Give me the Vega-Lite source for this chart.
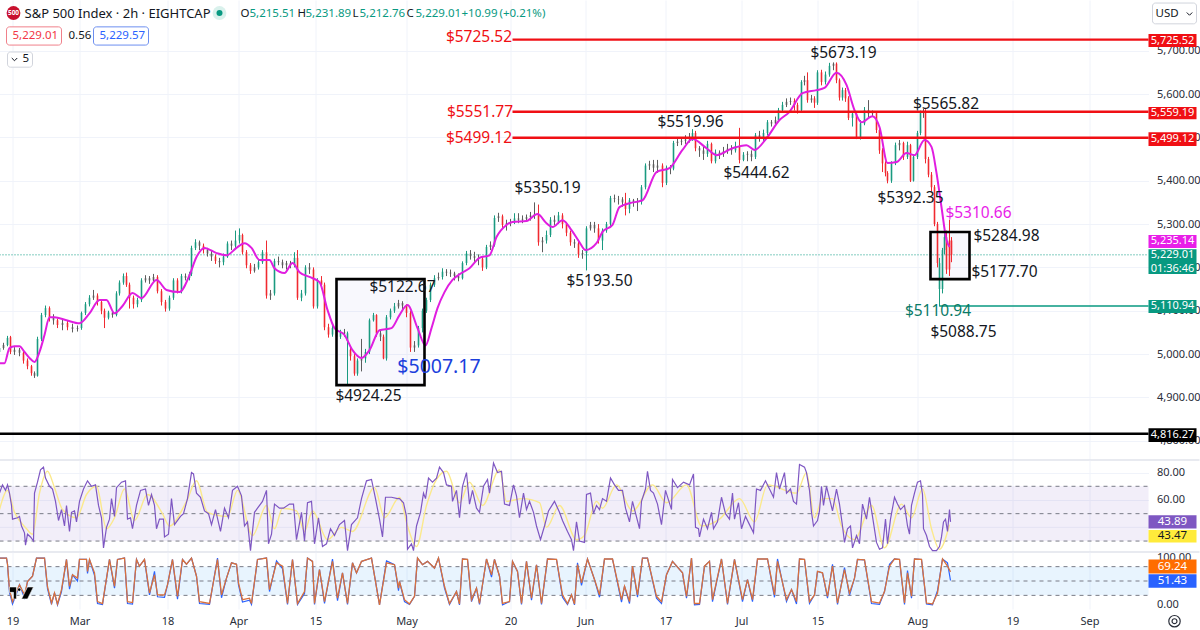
{
"$schema":"https://vega.github.io/schema/vega-lite/v6.json",
"padding":{"left":-2.5,"right":2.5,"top":0,"bottom":0},
"background":"#ffffff",
"spacing":0,
"bounds":"flush",
"resolve":{"scale":{"color":"independent","stroke":"independent"}},
"config":{"view":{"stroke":null},"legend":{"disable":true},"font":"Noto Sans","text":{"font":"Noto Sans"},"axis":{"labelFont":"Noto Sans"}},
"datasets":{
"candles":[
{"bar":0,"o":5005,"h":5018,"l":5000,"c":5014},{"bar":4,"o":5014,"h":5026,"l":5010,"c":5021},{"bar":8,"o":5021,"h":5042,"l":5018,"c":5037},{"bar":11,"o":5039,"h":5042,"l":5000,"c":5005},{"bar":15,"o":5005,"h":5016,"l":4998,"c":5010},{"bar":20,"o":5010,"h":5014,"l":4995,"c":5003},{"bar":24,"o":5003,"h":5006,"l":4978,"c":4985},{"bar":28,"o":4985,"h":4990,"l":4965,"c":4972},{"bar":32,"o":4972,"h":4975,"l":4950,"c":4956},{"bar":35,"o":4956,"h":4960,"l":4945,"c":4950},{"bar":38,"o":4950,"h":5040,"l":4948,"c":5035},{"bar":42,"o":5035,"h":5095,"l":5030,"c":5090},{"bar":46,"o":5090,"h":5112,"l":5085,"c":5106},{"bar":50,"o":5106,"h":5110,"l":5075,"c":5085},{"bar":54,"o":5085,"h":5092,"l":5068,"c":5078},{"bar":58,"o":5078,"h":5082,"l":5060,"c":5067},{"bar":63,"o":5067,"h":5080,"l":5055,"c":5072},{"bar":68,"o":5072,"h":5078,"l":5055,"c":5062},{"bar":73,"o":5062,"h":5070,"l":5050,"c":5058},{"bar":78,"o":5058,"h":5066,"l":5052,"c":5060},
{"bar":82,"o":5060,"h":5098,"l":5056,"c":5095},{"bar":86,"o":5095,"h":5120,"l":5090,"c":5115},{"bar":90,"o":5115,"h":5136,"l":5110,"c":5130},{"bar":94,"o":5130,"h":5148,"l":5125,"c":5135},{"bar":98,"o":5135,"h":5140,"l":5112,"c":5120},{"bar":102,"o":5120,"h":5124,"l":5092,"c":5100},{"bar":105,"o":5100,"h":5105,"l":5060,"c":5084},{"bar":109,"o":5084,"h":5100,"l":5080,"c":5096},{"bar":113,"o":5096,"h":5100,"l":5084,"c":5090},{"bar":117,"o":5090,"h":5145,"l":5087,"c":5140},{"bar":120,"o":5140,"h":5170,"l":5135,"c":5165},{"bar":124,"o":5165,"h":5186,"l":5160,"c":5180},{"bar":127,"o":5180,"h":5188,"l":5155,"c":5160},{"bar":130,"o":5160,"h":5165,"l":5105,"c":5130},{"bar":134,"o":5130,"h":5135,"l":5105,"c":5115},{"bar":138,"o":5115,"h":5130,"l":5108,"c":5125},{"bar":142,"o":5125,"h":5175,"l":5120,"c":5170},{"bar":146,"o":5170,"h":5182,"l":5165,"c":5175},{"bar":150,"o":5175,"h":5180,"l":5162,"c":5170},{"bar":154,"o":5170,"h":5185,"l":5165,"c":5178},
{"bar":158,"o":5178,"h":5182,"l":5140,"c":5145},{"bar":162,"o":5145,"h":5150,"l":5112,"c":5120},{"bar":166,"o":5120,"h":5125,"l":5098,"c":5105},{"bar":170,"o":5105,"h":5135,"l":5100,"c":5130},{"bar":174,"o":5130,"h":5175,"l":5125,"c":5170},{"bar":178,"o":5170,"h":5175,"l":5140,"c":5145},{"bar":182,"o":5145,"h":5185,"l":5140,"c":5180},{"bar":186,"o":5180,"h":5186,"l":5170,"c":5176},{"bar":190,"o":5176,"h":5190,"l":5170,"c":5185},{"bar":192,"o":5185,"h":5250,"l":5180,"c":5245},{"bar":196,"o":5245,"h":5265,"l":5240,"c":5258},{"bar":200,"o":5258,"h":5262,"l":5240,"c":5250},{"bar":204,"o":5250,"h":5255,"l":5232,"c":5240},{"bar":208,"o":5240,"h":5245,"l":5225,"c":5232},{"bar":212,"o":5232,"h":5238,"l":5215,"c":5225},{"bar":216,"o":5225,"h":5230,"l":5208,"c":5215},{"bar":220,"o":5215,"h":5222,"l":5200,"c":5212},{"bar":224,"o":5212,"h":5232,"l":5205,"c":5225},{"bar":228,"o":5225,"h":5260,"l":5222,"c":5255},{"bar":232,"o":5255,"h":5262,"l":5240,"c":5250},
{"bar":236,"o":5250,"h":5285,"l":5245,"c":5262},{"bar":240,"o":5262,"h":5290,"l":5255,"c":5275},{"bar":243,"o":5275,"h":5278,"l":5230,"c":5235},{"bar":247,"o":5235,"h":5240,"l":5198,"c":5205},{"bar":251,"o":5205,"h":5210,"l":5185,"c":5192},{"bar":255,"o":5192,"h":5208,"l":5188,"c":5200},{"bar":259,"o":5200,"h":5220,"l":5195,"c":5212},{"bar":263,"o":5212,"h":5240,"l":5208,"c":5235},{"bar":267,"o":5235,"h":5262,"l":5128,"c":5135},{"bar":271,"o":5135,"h":5148,"l":5125,"c":5140},{"bar":275,"o":5140,"h":5220,"l":5135,"c":5215},{"bar":279,"o":5215,"h":5225,"l":5205,"c":5212},{"bar":283,"o":5212,"h":5218,"l":5198,"c":5205},{"bar":287,"o":5205,"h":5215,"l":5195,"c":5210},{"bar":291,"o":5210,"h":5215,"l":5198,"c":5205},{"bar":295,"o":5205,"h":5235,"l":5200,"c":5222},{"bar":298,"o":5222,"h":5240,"l":5125,"c":5130},{"bar":302,"o":5130,"h":5148,"l":5122,"c":5140},{"bar":306,"o":5140,"h":5205,"l":5135,"c":5200},{"bar":310,"o":5200,"h":5210,"l":5185,"c":5195},
{"bar":314,"o":5195,"h":5200,"l":5105,"c":5110},{"bar":318,"o":5110,"h":5175,"l":5105,"c":5170},{"bar":322,"o":5170,"h":5180,"l":5150,"c":5160},{"bar":325,"o":5160,"h":5165,"l":5055,"c":5062},{"bar":329,"o":5062,"h":5070,"l":5038,"c":5045},{"bar":333,"o":5045,"h":5068,"l":5040,"c":5060},{"bar":337,"o":5060,"h":5065,"l":5030,"c":5040},{"bar":341,"o":5040,"h":5056,"l":5035,"c":5050},{"bar":345,"o":5050,"h":5058,"l":5040,"c":5048},{"bar":348,"o":5030,"h":5052,"l":4928,"c":5048},{"bar":351,"o":5010,"h":5015,"l":4985,"c":4995},{"bar":355,"o":4995,"h":5000,"l":4950,"c":4955},{"bar":358,"o":4955,"h":4990,"l":4950,"c":4985},{"bar":362,"o":4985,"h":5035,"l":4960,"c":4990},{"bar":366,"o":4990,"h":5012,"l":4980,"c":5005},{"bar":370,"o":5005,"h":5082,"l":5000,"c":5078},{"bar":374,"o":5078,"h":5095,"l":5075,"c":5090},{"bar":377,"o":5090,"h":5092,"l":5040,"c":5048},{"bar":381,"o":5048,"h":5055,"l":5030,"c":5040},{"bar":384,"o":5040,"h":5045,"l":4988,"c":4990},
{"bar":387,"o":4990,"h":5090,"l":4985,"c":5085},{"bar":391,"o":5085,"h":5105,"l":5080,"c":5100},{"bar":395,"o":5100,"h":5118,"l":5095,"c":5110},{"bar":399,"o":5110,"h":5125,"l":5105,"c":5118},{"bar":403,"o":5118,"h":5122,"l":5100,"c":5112},{"bar":407,"o":5112,"h":5115,"l":5085,"c":5095},{"bar":411,"o":5095,"h":5100,"l":5005,"c":5015},{"bar":415,"o":5015,"h":5030,"l":5005,"c":5020},{"bar":419,"o":5020,"h":5065,"l":5015,"c":5060},{"bar":423,"o":5060,"h":5105,"l":5050,"c":5100},{"bar":427,"o":5100,"h":5130,"l":5095,"c":5125},{"bar":431,"o":5125,"h":5165,"l":5120,"c":5160},{"bar":435,"o":5160,"h":5182,"l":5155,"c":5175},{"bar":439,"o":5175,"h":5188,"l":5170,"c":5178},{"bar":443,"o":5178,"h":5198,"l":5172,"c":5190},{"bar":447,"o":5190,"h":5196,"l":5180,"c":5188},{"bar":451,"o":5188,"h":5195,"l":5178,"c":5186},{"bar":455,"o":5186,"h":5190,"l":5170,"c":5180},{"bar":459,"o":5180,"h":5186,"l":5168,"c":5175},{"bar":463,"o":5175,"h":5214,"l":5172,"c":5210},
{"bar":467,"o":5210,"h":5238,"l":5205,"c":5232},{"bar":471,"o":5232,"h":5240,"l":5218,"c":5226},{"bar":475,"o":5226,"h":5236,"l":5212,"c":5222},{"bar":479,"o":5222,"h":5230,"l":5205,"c":5220},{"bar":483,"o":5220,"h":5225,"l":5192,"c":5200},{"bar":487,"o":5200,"h":5252,"l":5196,"c":5247},{"bar":491,"o":5247,"h":5260,"l":5240,"c":5252},{"bar":495,"o":5252,"h":5320,"l":5248,"c":5314},{"bar":499,"o":5314,"h":5326,"l":5305,"c":5318},{"bar":503,"o":5318,"h":5322,"l":5290,"c":5298},{"bar":507,"o":5298,"h":5310,"l":5285,"c":5302},{"bar":511,"o":5302,"h":5312,"l":5295,"c":5304},{"bar":515,"o":5304,"h":5325,"l":5300,"c":5313},{"bar":519,"o":5313,"h":5325,"l":5302,"c":5310},{"bar":523,"o":5310,"h":5320,"l":5302,"c":5312},{"bar":527,"o":5312,"h":5322,"l":5305,"c":5316},{"bar":531,"o":5316,"h":5328,"l":5308,"c":5320},{"bar":535,"o":5320,"h":5350,"l":5312,"c":5322},{"bar":539,"o":5322,"h":5345,"l":5250,"c":5258},{"bar":543,"o":5258,"h":5270,"l":5235,"c":5262},
{"bar":547,"o":5262,"h":5285,"l":5255,"c":5275},{"bar":551,"o":5275,"h":5316,"l":5270,"c":5310},{"bar":555,"o":5310,"h":5320,"l":5298,"c":5305},{"bar":559,"o":5305,"h":5328,"l":5300,"c":5320},{"bar":563,"o":5320,"h":5325,"l":5290,"c":5300},{"bar":567,"o":5300,"h":5305,"l":5272,"c":5280},{"bar":571,"o":5280,"h":5285,"l":5250,"c":5258},{"bar":575,"o":5258,"h":5265,"l":5245,"c":5255},{"bar":579,"o":5255,"h":5260,"l":5222,"c":5230},{"bar":583,"o":5230,"h":5240,"l":5220,"c":5233},{"bar":587,"o":5233,"h":5295,"l":5193,"c":5290},{"bar":591,"o":5290,"h":5305,"l":5285,"c":5298},{"bar":595,"o":5298,"h":5305,"l":5280,"c":5290},{"bar":599,"o":5290,"h":5300,"l":5255,"c":5262},{"bar":603,"o":5262,"h":5290,"l":5240,"c":5285},{"bar":607,"o":5285,"h":5305,"l":5280,"c":5300},{"bar":611,"o":5300,"h":5365,"l":5295,"c":5360},{"bar":615,"o":5360,"h":5368,"l":5350,"c":5358},{"bar":619,"o":5358,"h":5365,"l":5345,"c":5357},{"bar":623,"o":5357,"h":5362,"l":5340,"c":5350},
{"bar":626,"o":5350,"h":5372,"l":5320,"c":5335},{"bar":630,"o":5335,"h":5360,"l":5325,"c":5355},{"bar":634,"o":5355,"h":5358,"l":5340,"c":5350},{"bar":638,"o":5350,"h":5360,"l":5330,"c":5352},{"bar":642,"o":5352,"h":5390,"l":5345,"c":5385},{"bar":646,"o":5385,"h":5440,"l":5380,"c":5435},{"bar":650,"o":5435,"h":5446,"l":5425,"c":5438},{"bar":654,"o":5438,"h":5448,"l":5420,"c":5430},{"bar":658,"o":5430,"h":5448,"l":5418,"c":5435},{"bar":663,"o":5435,"h":5440,"l":5385,"c":5395},{"bar":667,"o":5395,"h":5435,"l":5390,"c":5430},{"bar":671,"o":5430,"h":5436,"l":5415,"c":5428},{"bar":674,"o":5428,"h":5492,"l":5424,"c":5487},{"bar":678,"o":5487,"h":5498,"l":5480,"c":5490},{"bar":682,"o":5490,"h":5500,"l":5482,"c":5492},{"bar":686,"o":5492,"h":5505,"l":5485,"c":5495},{"bar":690,"o":5495,"h":5510,"l":5488,"c":5498},{"bar":693,"o":5498,"h":5519,"l":5492,"c":5510},{"bar":696,"o":5510,"h":5515,"l":5468,"c":5475},{"bar":700,"o":5475,"h":5480,"l":5455,"c":5470},
{"bar":704,"o":5470,"h":5478,"l":5448,"c":5462},{"bar":708,"o":5462,"h":5492,"l":5455,"c":5485},{"bar":712,"o":5485,"h":5488,"l":5440,"c":5445},{"bar":716,"o":5445,"h":5472,"l":5440,"c":5465},{"bar":720,"o":5465,"h":5470,"l":5450,"c":5462},{"bar":724,"o":5462,"h":5478,"l":5455,"c":5468},{"bar":728,"o":5468,"h":5485,"l":5462,"c":5474},{"bar":732,"o":5474,"h":5482,"l":5460,"c":5470},{"bar":736,"o":5470,"h":5490,"l":5465,"c":5480},{"bar":740,"o":5480,"h":5522,"l":5440,"c":5448},{"bar":744,"o":5448,"h":5466,"l":5445,"c":5460},{"bar":748,"o":5460,"h":5468,"l":5445,"c":5462},{"bar":752,"o":5462,"h":5470,"l":5445,"c":5455},{"bar":756,"o":5455,"h":5510,"l":5450,"c":5505},{"bar":760,"o":5505,"h":5515,"l":5490,"c":5498},{"bar":764,"o":5498,"h":5518,"l":5492,"c":5510},{"bar":768,"o":5510,"h":5540,"l":5505,"c":5535},{"bar":772,"o":5535,"h":5540,"l":5525,"c":5532},{"bar":776,"o":5532,"h":5548,"l":5528,"c":5540},{"bar":779,"o":5540,"h":5568,"l":5535,"c":5563},
{"bar":783,"o":5563,"h":5582,"l":5558,"c":5575},{"bar":787,"o":5575,"h":5590,"l":5570,"c":5582},{"bar":791,"o":5582,"h":5592,"l":5575,"c":5584},{"bar":795,"o":5584,"h":5590,"l":5562,"c":5575},{"bar":798,"o":5575,"h":5580,"l":5555,"c":5563},{"bar":802,"o":5563,"h":5632,"l":5558,"c":5628},{"bar":805,"o":5628,"h":5642,"l":5620,"c":5632},{"bar":808,"o":5632,"h":5650,"l":5580,"c":5586},{"bar":812,"o":5586,"h":5598,"l":5580,"c":5590},{"bar":815,"o":5590,"h":5595,"l":5568,"c":5580},{"bar":818,"o":5580,"h":5655,"l":5575,"c":5650},{"bar":822,"o":5650,"h":5656,"l":5620,"c":5628},{"bar":826,"o":5628,"h":5652,"l":5622,"c":5645},{"bar":830,"o":5645,"h":5672,"l":5640,"c":5665},{"bar":834,"o":5665,"h":5673,"l":5655,"c":5670},{"bar":837,"o":5670,"h":5673,"l":5625,"c":5632},{"bar":840,"o":5632,"h":5636,"l":5585,"c":5592},{"bar":843,"o":5592,"h":5615,"l":5585,"c":5609},{"bar":846,"o":5609,"h":5614,"l":5582,"c":5590},{"bar":849,"o":5590,"h":5595,"l":5540,"c":5545},
{"bar":853,"o":5545,"h":5560,"l":5525,"c":5555},{"bar":857,"o":5555,"h":5558,"l":5496,"c":5500},{"bar":861,"o":5500,"h":5540,"l":5495,"c":5532},{"bar":865,"o":5532,"h":5570,"l":5528,"c":5563},{"bar":869,"o":5563,"h":5586,"l":5545,"c":5555},{"bar":873,"o":5555,"h":5562,"l":5548,"c":5556},{"bar":877,"o":5556,"h":5560,"l":5510,"c":5517},{"bar":880,"o":5517,"h":5520,"l":5462,"c":5470},{"bar":883,"o":5470,"h":5475,"l":5420,"c":5440},{"bar":886,"o":5440,"h":5445,"l":5410,"c":5418},{"bar":888,"o":5418,"h":5422,"l":5394,"c":5400},{"bar":892,"o":5400,"h":5445,"l":5395,"c":5440},{"bar":896,"o":5440,"h":5488,"l":5436,"c":5482},{"bar":900,"o":5482,"h":5494,"l":5470,"c":5487},{"bar":904,"o":5487,"h":5490,"l":5448,"c":5455},{"bar":908,"o":5455,"h":5490,"l":5450,"c":5482},{"bar":911,"o":5482,"h":5485,"l":5397,"c":5400},{"bar":914,"o":5400,"h":5460,"l":5398,"c":5455},{"bar":918,"o":5455,"h":5515,"l":5450,"c":5510},{"bar":921,"o":5510,"h":5562,"l":5505,"c":5556},
{"bar":924,"o":5556,"h":5566,"l":5545,"c":5558},{"bar":926,"o":5558,"h":5565,"l":5440,"c":5450},{"bar":929,"o":5450,"h":5455,"l":5408,"c":5414},{"bar":932,"o":5414,"h":5420,"l":5375,"c":5385},{"bar":935,"o":5385,"h":5390,"l":5295,"c":5300},{"bar":938,"o":5300,"h":5305,"l":5200,"c":5210},{"bar":940,"o":5150,"h":5222,"l":5110,"c":5210},{"bar":943,"o":5150,"h":5245,"l":5140,"c":5240},{"bar":945,"o":5240,"h":5280,"l":5230,"c":5270},{"bar":947,"o":5270,"h":5285,"l":5185,"c":5195},{"bar":950,"o":5262,"h":5310,"l":5180,"c":5195},{"bar":952,"o":5262,"h":5270,"l":5212,"c":5229}
],
"priceSma":[
{"bar":0,"value":4979},{"bar":5,"value":4979},{"bar":10,"value":5014},{"bar":15,"value":5018},{"bar":20,"value":5018},{"bar":25,"value":5005},{"bar":30,"value":4991},{"bar":35,"value":4982},{"bar":40,"value":5005},{"bar":45,"value":5044},{"bar":50,"value":5085},{"bar":55,"value":5085},{"bar":67,"value":5078},{"bar":80,"value":5071},{"bar":90,"value":5094},{"bar":100,"value":5125},{"bar":107,"value":5125},{"bar":115,"value":5094},{"bar":123,"value":5111},{"bar":133,"value":5141},{"bar":142,"value":5129},{"bar":157,"value":5171},{"bar":167,"value":5148},{"bar":180,"value":5143},{"bar":190,"value":5182},{"bar":197,"value":5224},{"bar":205,"value":5245},{"bar":217,"value":5233},{"bar":227,"value":5228},{"bar":237,"value":5245},{"bar":245,"value":5256},{"bar":252,"value":5245},{"bar":260,"value":5217},{"bar":270,"value":5217},{"bar":275,"value":5198},{"bar":285,"value":5187},{"bar":293,"value":5210},{"bar":300,"value":5189},{"bar":310,"value":5178},{"bar":320,"value":5166},{"bar":328,"value":5102},{"bar":335,"value":5060},{"bar":345,"value":5044},{"bar":353,"value":5009},{"bar":362,"value":4991},{"bar":370,"value":5009},{"bar":380,"value":5055},{"bar":392,"value":5060},{"bar":400,"value":5090},{"bar":408,"value":5113},{"bar":418,"value":5060},{"bar":426,"value":5020},{"bar":432,"value":5060},{"bar":438,"value":5106},{"bar":445,"value":5143},{"bar":453,"value":5171},{"bar":462,"value":5187},{"bar":470,"value":5198},{"bar":480,"value":5222},{"bar":490,"value":5228},{"bar":497,"value":5270},{"bar":507,"value":5298},{"bar":513,"value":5305},{"bar":527,"value":5307},{"bar":538,"value":5323},{"bar":547,"value":5302},{"bar":553,"value":5293},{"bar":563,"value":5309},{"bar":572,"value":5286},{"bar":580,"value":5258},{"bar":586,"value":5240},{"bar":597,"value":5256},{"bar":603,"value":5282},{"bar":613,"value":5298},{"bar":620,"value":5339},{"bar":630,"value":5348},{"bar":643,"value":5355},{"bar":657,"value":5420},{"bar":670,"value":5429},{"bar":683,"value":5471},{"bar":693,"value":5496},{"bar":707,"value":5475},{"bar":717,"value":5459},{"bar":733,"value":5475},{"bar":747,"value":5482},{"bar":755,"value":5471},{"bar":767,"value":5498},{"bar":780,"value":5540},{"bar":790,"value":5559},{"bar":803,"value":5602},{"bar":817,"value":5609},{"bar":825,"value":5614},{"bar":837,"value":5649},{"bar":847,"value":5621},{"bar":855,"value":5563},{"bar":862,"value":5535},{"bar":873,"value":5549},{"bar":880,"value":5524},{"bar":888,"value":5441},{"bar":897,"value":5443},{"bar":907,"value":5464},{"bar":915,"value":5459},{"bar":925,"value":5494},{"bar":932,"value":5478},{"bar":937,"value":5418},{"bar":942,"value":5339},{"bar":947,"value":5263},{"bar":950,"value":5247}
],
"levels":[
{"bar":513,"end":1149,"value":5725.52,"tone":"resistance"},{"bar":513,"end":1149,"value":5559.19,"tone":"resistance"},{"bar":513,"end":1149,"value":5499.12,"tone":"resistance"},{"bar":0,"end":1149,"value":4816.27,"tone":"floor"},{"bar":940,"end":1149,"value":5110.94,"tone":"up"}
],
"lastPrice":[{"bar":0,"end":1149,"value":5229.01}],
"mainDivider":[{"bar":0,"end":1200,"value":4755.6}],
"zones":[{"bar":337,"end":425,"value":5173,"low":4928.4},{"bar":931,"end":970,"value":5281.6,"low":5173}],
"notes":[
{"bar":479.5,"value":5731.6,"label":"$5725.52","tone":"resistance"},{"bar":480.5,"value":5558.5,"label":"$5551.77","tone":"resistance"},{"bar":479.5,"value":5498.5,"label":"$5499.12","tone":"resistance"},{"bar":844,"value":5694.7,"label":"$5673.19","tone":"ink"},{"bar":946.5,"value":5577,"label":"$5565.82","tone":"ink"},{"bar":691,"value":5535.4,"label":"$5519.96","tone":"ink"},{"bar":548,"value":5383,"label":"$5350.19","tone":"ink"},{"bar":757,"value":5417.7,"label":"$5444.62","tone":"ink"},{"bar":911,"value":5360,"label":"$5392.35","tone":"ink"},{"bar":979,"value":5325.4,"label":"$5310.66","tone":"sma"},{"bar":1007,"value":5272.3,"label":"$5284.98","tone":"ink"},{"bar":1005,"value":5189.2,"label":"$5177.70","tone":"ink"},{"bar":938.5,"value":5099.2,"label":"$5110.94","tone":"green"},{"bar":964,"value":5050.7,"label":"$5088.75","tone":"ink"},{"bar":600,"value":5168.5,"label":"$5193.50","tone":"ink"},{"bar":403,"value":5154.6,"label":"$5122.67","tone":"ink"},{"bar":439.5,"value":4970,"label":"$5007.17","tone":"blue"},{"bar":369,"value":4903,"label":"$4924.25","tone":"ink"}
],
"priceTags":[
{"bar":1149,"end":1197,"value":5738.5,"low":5708.5,"tone":"resistance"},{"bar":1149,"end":1197,"value":5570,"low":5542,"tone":"resistance"},{"bar":1149,"end":1197,"value":5512,"low":5480,"tone":"resistance"},{"bar":1149,"end":1197,"value":5274.6,"low":5244.6,"tone":"sma"},{"bar":1149,"end":1197,"value":5242,"low":5185,"tone":"up"},{"bar":1149,"end":1197,"value":5125,"low":5095,"tone":"up"},{"bar":1149,"end":1197,"value":4829,"low":4797,"tone":"floor"}
],
"priceTagText":[
{"bar":1173,"value":5723.5,"label":"5,725.52"},{"bar":1173,"value":5556,"label":"5,559.19"},{"bar":1173,"value":5496,"label":"5,499.12"},{"bar":1173,"value":5260,"label":"5,235.14"},{"bar":1173,"value":5228,"label":"5,229.01"},{"bar":1173,"value":5197,"label":"01:36:46"},{"bar":1173,"value":5110,"label":"5,110.94"},{"bar":1173,"value":4813,"label":"4,816.27"}
],
"headerText":[
{"bar":25,"value":5785,"label":"S&P 500 Index · 2h · EIGHTCAP","tone":"ink"},{"bar":241,"value":5785,"label":"O","tone":"ink"},{"bar":250,"value":5785,"label":"5,215.51","tone":"up"},{"bar":298,"value":5785,"label":"H","tone":"ink"},{"bar":306,"value":5785,"label":"5,231.89","tone":"up"},{"bar":353,"value":5785,"label":"L","tone":"ink"},{"bar":360,"value":5785,"label":"5,212.76","tone":"up"},{"bar":407,"value":5785,"label":"C","tone":"ink"},{"bar":416,"value":5785,"label":"5,229.01","tone":"up"},{"bar":462,"value":5785,"label":"+10.99","tone":"up"},{"bar":500,"value":5785,"label":"(+0.21%)","tone":"up"},{"bar":13,"value":5734,"label":"5,229.01","tone":"chipRed"},{"bar":69,"value":5734,"label":"0.56","tone":"ink"},{"bar":100,"value":5734,"label":"5,229.57","tone":"blueChip"},{"bar":23,"value":5680,"label":"5","tone":"ink"},{"bar":1156,"value":5785,"label":"USD","tone":"ink"}
],
"headerBoxes":[
{"bar":7,"end":62,"value":5755,"low":5713,"tone":"chipRed"},{"bar":94,"end":149,"value":5755,"low":5713,"tone":"blueChip"},{"bar":8,"end":33,"value":5697,"low":5662,"tone":"line"},{"bar":1153,"end":1197,"value":5810,"low":5762,"tone":"line"}
],
"logoDot":[{"bar":14,"value":5787}],
"logoText":[{"bar":14,"value":5787,"label":"500"}],
"statusRing":[{"bar":220,"value":5787}],
"chevrons":[{"bar":15,"value":5680},{"bar":1190,"value":5785}],
"rsiBand":[{"bar":0,"end":1149,"value":70,"low":30}],
"rsiDashes":[{"bar":0,"end":1149,"value":70},{"bar":0,"end":1149,"value":50},{"bar":0,"end":1149,"value":30}],
"rsiGrid":[{"bar":0,"end":1149,"value":40}],
"rsiDivider":[{"bar":0,"end":1200,"value":22}],
"rsiLine":[
{"bar":0,"value":65},{"bar":3,"value":71},{"bar":6,"value":67},{"bar":8,"value":71},{"bar":10,"value":65},{"bar":12,"value":56},{"bar":13,"value":46},{"bar":18,"value":47},{"bar":20,"value":48},{"bar":22,"value":41},{"bar":25,"value":36},{"bar":26,"value":27},{"bar":28,"value":35},{"bar":31,"value":33},{"bar":34,"value":30},{"bar":35,"value":65},{"bar":38,"value":73},{"bar":41,"value":82},{"bar":44,"value":84},{"bar":46,"value":76},{"bar":50,"value":70},{"bar":53,"value":68},{"bar":56,"value":59},{"bar":59,"value":45},{"bar":62,"value":53},{"bar":65,"value":41},{"bar":67,"value":56},{"bar":70,"value":37},{"bar":72,"value":51},{"bar":75,"value":52},{"bar":77,"value":44},{"bar":80,"value":59},{"bar":84,"value":68},{"bar":88,"value":74},{"bar":92,"value":70},{"bar":96,"value":71},{"bar":99,"value":56},{"bar":102,"value":47},{"bar":104,"value":25},{"bar":107,"value":40},{"bar":110,"value":46},{"bar":112,"value":61},{"bar":115,"value":48},{"bar":117,"value":69},{"bar":122,"value":73},{"bar":126,"value":74},{"bar":128,"value":46},{"bar":131,"value":47},{"bar":133,"value":39},{"bar":137,"value":56},{"bar":141,"value":67},{"bar":146,"value":68},{"bar":149,"value":56},{"bar":152,"value":64},{"bar":155,"value":56},{"bar":157,"value":39},{"bar":160,"value":46},{"bar":164,"value":46},{"bar":165,"value":33},{"bar":169,"value":35},{"bar":172,"value":61},{"bar":175,"value":42},{"bar":181,"value":48},{"bar":184,"value":50},{"bar":188,"value":61},{"bar":192,"value":80},{"bar":194,"value":79},{"bar":197,"value":65},{"bar":201,"value":62},{"bar":205,"value":52},{"bar":209,"value":50},{"bar":212,"value":42},{"bar":216,"value":53},{"bar":221,"value":37},{"bar":225,"value":54},{"bar":229,"value":47},{"bar":233,"value":67},{"bar":238,"value":70},{"bar":242,"value":63},{"bar":245,"value":41},{"bar":248,"value":44},{"bar":251,"value":23},{"bar":255,"value":51},{"bar":258,"value":54},{"bar":263,"value":59},{"bar":267,"value":67},{"bar":269,"value":28},{"bar":272,"value":35},{"bar":275,"value":57},{"bar":280,"value":54},{"bar":284,"value":54},{"bar":290,"value":57},{"bar":294,"value":57},{"bar":297,"value":31},{"bar":302,"value":51},{"bar":305,"value":30},{"bar":308,"value":58},{"bar":312,"value":59},{"bar":315,"value":28},{"bar":319,"value":47},{"bar":323,"value":26},{"bar":327,"value":28},{"bar":331,"value":39},{"bar":335,"value":34},{"bar":340,"value":42},{"bar":345,"value":45},{"bar":348,"value":23},{"bar":352,"value":42},{"bar":358,"value":47},{"bar":362,"value":61},{"bar":367,"value":74},{"bar":372,"value":75},{"bar":376,"value":61},{"bar":380,"value":46},{"bar":383,"value":33},{"bar":386,"value":62},{"bar":392,"value":62},{"bar":398,"value":61},
{"bar":400,"value":61},{"bar":404,"value":58},{"bar":407,"value":48},{"bar":408,"value":24},{"bar":412,"value":28},{"bar":414,"value":23},{"bar":417,"value":41},{"bar":421,"value":51},{"bar":424,"value":65},{"bar":426,"value":61},{"bar":429,"value":76},{"bar":433,"value":73},{"bar":437,"value":76},{"bar":440,"value":84},{"bar":444,"value":80},{"bar":447,"value":71},{"bar":452,"value":70},{"bar":453,"value":59},{"bar":457,"value":67},{"bar":460,"value":47},{"bar":463,"value":70},{"bar":467,"value":80},{"bar":470,"value":57},{"bar":473,"value":67},{"bar":477,"value":54},{"bar":480,"value":51},{"bar":484,"value":70},{"bar":488,"value":75},{"bar":490,"value":65},{"bar":494,"value":87},{"bar":498,"value":80},{"bar":502,"value":81},{"bar":505,"value":57},{"bar":510,"value":56},{"bar":514,"value":71},{"bar":517,"value":63},{"bar":520,"value":47},{"bar":524,"value":65},{"bar":527,"value":53},{"bar":530,"value":59},{"bar":534,"value":51},{"bar":537,"value":41},{"bar":541,"value":31},{"bar":545,"value":41},{"bar":549,"value":52},{"bar":555,"value":59},{"bar":560,"value":51},{"bar":563,"value":45},{"bar":568,"value":37},{"bar":572,"value":31},{"bar":574,"value":23},{"bar":577,"value":44},{"bar":580,"value":30},{"bar":585,"value":29},{"bar":587,"value":64},{"bar":591,"value":65},{"bar":594,"value":50},{"bar":597,"value":56},{"bar":600,"value":53},{"bar":603,"value":61},{"bar":607,"value":59},{"bar":611,"value":76},{"bar":615,"value":71},{"bar":619,"value":67},{"bar":623,"value":67},{"bar":626,"value":54},{"bar":630,"value":44},{"bar":633,"value":59},{"bar":640,"value":39},{"bar":642,"value":59},{"bar":646,"value":68},{"bar":648,"value":81},{"bar":651,"value":67},{"bar":654,"value":65},{"bar":658,"value":57},{"bar":662,"value":42},{"bar":666,"value":67},{"bar":672,"value":53},{"bar":673,"value":75},{"bar":678,"value":69},{"bar":684,"value":73},{"bar":690,"value":71},{"bar":694,"value":79},{"bar":696,"value":40},{"bar":699,"value":39},{"bar":700,"value":33},{"bar":704,"value":46},{"bar":708,"value":39},{"bar":712,"value":51},{"bar":714,"value":39},{"bar":718,"value":44},{"bar":722,"value":62},{"bar":726,"value":50},{"bar":730,"value":46},{"bar":733,"value":65},{"bar":735,"value":46},{"bar":739,"value":58},{"bar":742,"value":39},{"bar":746,"value":48},{"bar":750,"value":42},{"bar":754,"value":36},{"bar":757,"value":68},{"bar":761,"value":67},{"bar":766,"value":74},{"bar":770,"value":68},{"bar":774,"value":62},{"bar":777,"value":80},{"bar":780,"value":68},{"bar":785,"value":80},{"bar":787,"value":65},{"bar":791,"value":68},{"bar":794,"value":59},{"bar":797,"value":57},
{"bar":800,"value":86},{"bar":805,"value":84},{"bar":807,"value":80},{"bar":810,"value":67},{"bar":812,"value":51},{"bar":814,"value":41},{"bar":818,"value":45},{"bar":820,"value":52},{"bar":822,"value":70},{"bar":824,"value":56},{"bar":827,"value":70},{"bar":830,"value":61},{"bar":833,"value":52},{"bar":837,"value":68},{"bar":840,"value":57},{"bar":843,"value":41},{"bar":845,"value":29},{"bar":848,"value":39},{"bar":851,"value":41},{"bar":853,"value":25},{"bar":857,"value":34},{"bar":860,"value":28},{"bar":863,"value":57},{"bar":867,"value":46},{"bar":870,"value":62},{"bar":873,"value":48},{"bar":877,"value":29},{"bar":880,"value":24},{"bar":883,"value":25},{"bar":886,"value":46},{"bar":888,"value":28},{"bar":891,"value":46},{"bar":895,"value":62},{"bar":898,"value":57},{"bar":901,"value":53},{"bar":905,"value":56},{"bar":908,"value":41},{"bar":910,"value":35},{"bar":912,"value":56},{"bar":915,"value":65},{"bar":918,"value":73},{"bar":921,"value":74},{"bar":923,"value":64},{"bar":924,"value":39},{"bar":927,"value":34},{"bar":930,"value":26},{"bar":933,"value":23},{"bar":937,"value":23},{"bar":940,"value":26},{"bar":942,"value":33},{"bar":944,"value":44},{"bar":946,"value":46},{"bar":948,"value":37},{"bar":950,"value":53},{"bar":951,"value":44}
],
"rsiSma":[
{"bar":0,"value":53},{"bar":8,"value":67},{"bar":15,"value":51},{"bar":20,"value":45},{"bar":27,"value":39},{"bar":33,"value":35},{"bar":40,"value":65},{"bar":48,"value":81},{"bar":55,"value":69},{"bar":63,"value":53},{"bar":77,"value":47},{"bar":87,"value":64},{"bar":97,"value":70},{"bar":107,"value":39},{"bar":115,"value":47},{"bar":125,"value":68},{"bar":135,"value":45},{"bar":148,"value":64},{"bar":163,"value":50},{"bar":170,"value":41},{"bar":187,"value":59},{"bar":197,"value":74},{"bar":208,"value":51},{"bar":228,"value":48},{"bar":238,"value":67},{"bar":253,"value":34},{"bar":267,"value":56},{"bar":275,"value":39},{"bar":283,"value":54},{"bar":297,"value":52},{"bar":305,"value":37},{"bar":313,"value":52},{"bar":328,"value":31},{"bar":342,"value":40},{"bar":353,"value":37},{"bar":375,"value":69},{"bar":385,"value":47},{"bar":400,"value":62},{"bar":408,"value":41},{"bar":417,"value":26},{"bar":427,"value":56},{"bar":437,"value":75},{"bar":447,"value":81},{"bar":460,"value":58},{"bar":470,"value":73},{"bar":483,"value":56},{"bar":500,"value":82},{"bar":507,"value":59},{"bar":523,"value":61},{"bar":540,"value":58},{"bar":547,"value":40},{"bar":560,"value":56},{"bar":577,"value":31},{"bar":585,"value":34},{"bar":597,"value":59},{"bar":603,"value":54},{"bar":617,"value":71},{"bar":633,"value":52},{"bar":653,"value":71},{"bar":667,"value":58},{"bar":687,"value":71},{"bar":702,"value":41},{"bar":720,"value":46},{"bar":740,"value":61},{"bar":755,"value":44},{"bar":768,"value":71},{"bar":797,"value":65},{"bar":807,"value":80},{"bar":815,"value":47},{"bar":823,"value":61},{"bar":833,"value":61},{"bar":842,"value":41},{"bar":855,"value":31},{"bar":872,"value":56},{"bar":885,"value":25},{"bar":902,"value":57},{"bar":912,"value":47},{"bar":923,"value":68},{"bar":932,"value":39},{"bar":940,"value":24},{"bar":950,"value":42}
],
"rsiTags":[{"bar":1149,"end":1197,"value":48.8,"low":39.1,"tone":"rsi"},{"bar":1149,"end":1197,"value":38.1,"low":28.9,"tone":"signal"}],
"rsiTagText":[{"bar":1173,"value":43.9,"label":"43.89"},{"bar":1173,"value":33.5,"label":"43.47"}],
"stochBand":[{"bar":0,"end":1149,"value":80,"low":20}],
"stochDashes":[{"bar":0,"end":1149,"value":80},{"bar":0,"end":1149,"value":50},{"bar":0,"end":1149,"value":20}],
"stochLine":[
{"bar":0,"k":98,"value":98},{"bar":7,"k":98,"value":98},{"bar":8,"k":85,"value":85},{"bar":10,"k":26,"value":32},{"bar":13,"k":2,"value":7},{"bar":17,"k":24,"value":28},{"bar":20,"k":42,"value":42},{"bar":25,"k":15,"value":21},{"bar":28,"k":49,"value":49},{"bar":33,"k":60,"value":60},{"bar":37,"k":98,"value":98},{"bar":45,"k":98,"value":98},{"bar":48,"k":34,"value":38},{"bar":52,"k":1,"value":4},{"bar":55,"k":25,"value":25},{"bar":58,"k":0,"value":2},{"bar":62,"k":28,"value":32},{"bar":67,"k":95,"value":95},{"bar":70,"k":33,"value":39},{"bar":73,"k":63,"value":63},{"bar":78,"k":50,"value":56},{"bar":80,"k":95,"value":95},{"bar":87,"k":95,"value":95},{"bar":88,"k":66,"value":70},{"bar":90,"k":95,"value":95},{"bar":95,"k":62,"value":67},{"bar":98,"k":3,"value":7},{"bar":103,"k":1,"value":3},{"bar":110,"k":95,"value":95},{"bar":115,"k":35,"value":39},{"bar":118,"k":95,"value":95},{"bar":125,"k":98,"value":98},{"bar":128,"k":3,"value":7},{"bar":133,"k":2,"value":5},{"bar":137,"k":95,"value":95},{"bar":140,"k":81,"value":81},{"bar":145,"k":95,"value":95},{"bar":150,"k":21,"value":25},{"bar":155,"k":70,"value":63},{"bar":158,"k":17,"value":21},{"bar":165,"k":16,"value":21},{"bar":168,"k":42,"value":42},{"bar":173,"k":95,"value":95},{"bar":178,"k":12,"value":18},{"bar":183,"k":95,"value":95},{"bar":187,"k":85,"value":85},{"bar":192,"k":98,"value":98},{"bar":197,"k":60,"value":60},{"bar":200,"k":3,"value":7},{"bar":210,"k":1,"value":3},{"bar":218,"k":98,"value":95},{"bar":222,"k":15,"value":21},{"bar":227,"k":56,"value":56},{"bar":232,"k":88,"value":88},{"bar":237,"k":85,"value":85},{"bar":239,"k":42,"value":46},{"bar":243,"k":6,"value":11},{"bar":250,"k":10,"value":14},{"bar":252,"k":1,"value":3},{"bar":258,"k":95,"value":95},{"bar":267,"k":98,"value":98},{"bar":270,"k":28,"value":32},{"bar":277,"k":92,"value":88},{"bar":283,"k":76,"value":81},{"bar":288,"k":1,"value":3},{"bar":293,"k":95,"value":95},{"bar":298,"k":1,"value":3},{"bar":305,"k":24,"value":28},{"bar":308,"k":98,"value":98},{"bar":313,"k":91,"value":91},{"bar":315,"k":1,"value":3},{"bar":320,"k":74,"value":74},{"bar":325,"k":3,"value":7},{"bar":333,"k":96,"value":91},{"bar":338,"k":9,"value":14},{"bar":343,"k":67,"value":67},{"bar":348,"k":1,"value":3},{"bar":353,"k":88,"value":88},{"bar":357,"k":67,"value":67},{"bar":362,"k":91,"value":91},{"bar":372,"k":98,"value":98},{"bar":380,"k":0,"value":0},{"bar":387,"k":92,"value":88},{"bar":395,"k":84,"value":84},{"bar":399,"k":30,"value":35},
{"bar":400,"k":49,"value":49},{"bar":405,"k":7,"value":11},{"bar":410,"k":1,"value":2},{"bar":415,"k":18,"value":18},{"bar":418,"k":98,"value":98},{"bar":423,"k":84,"value":84},{"bar":428,"k":91,"value":91},{"bar":435,"k":77,"value":77},{"bar":439,"k":98,"value":98},{"bar":445,"k":35,"value":39},{"bar":450,"k":1,"value":3},{"bar":457,"k":28,"value":28},{"bar":460,"k":0,"value":2},{"bar":463,"k":96,"value":96},{"bar":468,"k":95,"value":95},{"bar":472,"k":7,"value":11},{"bar":477,"k":35,"value":35},{"bar":480,"k":1,"value":3},{"bar":487,"k":96,"value":96},{"bar":492,"k":58,"value":63},{"bar":495,"k":95,"value":95},{"bar":500,"k":60,"value":60},{"bar":503,"k":0,"value":3},{"bar":510,"k":7,"value":7},{"bar":513,"k":91,"value":91},{"bar":518,"k":70,"value":70},{"bar":522,"k":1,"value":3},{"bar":527,"k":91,"value":91},{"bar":532,"k":10,"value":14},{"bar":537,"k":84,"value":84},{"bar":542,"k":1,"value":3},{"bar":548,"k":96,"value":96},{"bar":557,"k":95,"value":95},{"bar":563,"k":16,"value":21},{"bar":568,"k":1,"value":3},{"bar":572,"k":21,"value":21},{"bar":575,"k":0,"value":2},{"bar":578,"k":88,"value":84},{"bar":582,"k":41,"value":46},{"bar":588,"k":96,"value":96},{"bar":595,"k":53,"value":53},{"bar":600,"k":16,"value":21},{"bar":605,"k":96,"value":96},{"bar":613,"k":96,"value":96},{"bar":622,"k":6,"value":11},{"bar":625,"k":39,"value":39},{"bar":630,"k":3,"value":7},{"bar":633,"k":81,"value":81},{"bar":638,"k":16,"value":21},{"bar":643,"k":98,"value":98},{"bar":648,"k":98,"value":98},{"bar":657,"k":14,"value":18},{"bar":662,"k":3,"value":7},{"bar":667,"k":63,"value":63},{"bar":673,"k":91,"value":91},{"bar":683,"k":67,"value":67},{"bar":687,"k":14,"value":18},{"bar":692,"k":98,"value":98},{"bar":695,"k":0,"value":3},{"bar":700,"k":1,"value":3},{"bar":705,"k":81,"value":81},{"bar":710,"k":91,"value":91},{"bar":713,"k":7,"value":11},{"bar":722,"k":96,"value":96},{"bar":728,"k":1,"value":3},{"bar":735,"k":95,"value":95},{"bar":743,"k":7,"value":11},{"bar":748,"k":53,"value":53},{"bar":753,"k":7,"value":11},{"bar":758,"k":96,"value":96},{"bar":768,"k":96,"value":96},{"bar":775,"k":16,"value":21},{"bar":778,"k":96,"value":91},{"bar":787,"k":7,"value":11},{"bar":792,"k":32,"value":32},{"bar":797,"k":2,"value":7},
{"bar":800,"k":96,"value":96},{"bar":805,"k":95,"value":95},{"bar":810,"k":3,"value":7},{"bar":815,"k":21,"value":21},{"bar":818,"k":70,"value":70},{"bar":823,"k":67,"value":67},{"bar":828,"k":14,"value":18},{"bar":833,"k":85,"value":81},{"bar":838,"k":1,"value":4},{"bar":845,"k":78,"value":74},{"bar":850,"k":20,"value":25},{"bar":855,"k":56,"value":56},{"bar":858,"k":95,"value":95},{"bar":865,"k":94,"value":94},{"bar":872,"k":3,"value":7},{"bar":880,"k":1,"value":4},{"bar":885,"k":28,"value":28},{"bar":890,"k":85,"value":81},{"bar":895,"k":96,"value":96},{"bar":900,"k":95,"value":95},{"bar":905,"k":1,"value":4},{"bar":908,"k":72,"value":67},{"bar":912,"k":14,"value":18},{"bar":915,"k":96,"value":96},{"bar":922,"k":95,"value":95},{"bar":927,"k":2,"value":4},{"bar":933,"k":0,"value":2},{"bar":938,"k":30,"value":25},{"bar":943,"k":96,"value":96},{"bar":948,"k":88,"value":81},{"bar":951,"k":51,"value":69}
],
"stochTags":[{"bar":1149,"end":1197,"value":95,"low":65.5,"tone":"d"},{"bar":1149,"end":1197,"value":64,"low":36,"tone":"k"}],
"stochTagText":[{"bar":1173,"value":80,"label":"69.24"},{"bar":1173,"value":50,"label":"51.43"}],
"tvLogo":[{"bar":22,"value":25}],
"gear":[{"bar":1175,"value":-34}]
},
"vconcat":[
{
"width":1149,"height":460,
"encoding":{
"x":{"field":"bar","type":"quantitative","scale":{"domain":[0,1149],"nice":false,"zero":false},"axis":{"values":[13,80,168,239,316,407,511,586,666,742,818,918,1013,1090],"grid":true,"gridColor":"#f0f3fa","labels":false,"ticks":false,"domain":false,"title":null}},
"y":{"field":"value","type":"quantitative","scale":{"domain":[4755.6,5817],"nice":false,"zero":false},"axis":{"orient":"right","values":[4800,4900,5000,5100,5200,5300,5400,5500,5600,5700],"format":",.2f","title":null,"grid":true,"gridColor":"#f0f3fa","ticks":false,"domain":false,"labelPadding":8,"labelFontSize":11,"labelColor":"#2a2e39","labelOverlap":false}}
},
"layer":[
{"data":{"name":"mainDivider"},"mark":{"type":"rule","color":"#e0e3eb","strokeWidth":1.5},"encoding":{"x2":{"field":"end"}}},
{"data":{"name":"lastPrice"},"mark":{"type":"rule","color":"#089981","strokeWidth":1,"strokeDash":[1,2]},"encoding":{"x2":{"field":"end"}}},
{"data":{"name":"zones"},"mark":{"type":"rect","fill":"#5050c8","fillOpacity":0.04},"encoding":{"x2":{"field":"end"},"y2":{"field":"low"}}},
{"data":{"name":"candles"},"mark":{"type":"rule","strokeWidth":1,"clip":true},"encoding":{
"y":{"field":"h","type":"quantitative","scale":{"domain":[4755.6,5817],"nice":false,"zero":false},"axis":{"orient":"right","values":[4800,4900,5000,5100,5200,5300,5400,5500,5600,5700],"format":",.2f","title":null,"grid":true,"gridColor":"#f0f3fa","ticks":false,"domain":false,"labelPadding":8,"labelFontSize":11,"labelColor":"#2a2e39","labelOverlap":false}},"y2":{"field":"l"},
"color":{"condition":[{"test":"abs(datum.c-datum.o)<9","value":"#5d5d5d"},{"test":"datum.c>datum.o","value":"#1a9a80"}],"value":"#f02a30"}}},
{"data":{"name":"candles"},"mark":{"type":"rule","strokeWidth":1.6,"clip":true},"encoding":{
"y":{"field":"o","type":"quantitative","scale":{"domain":[4755.6,5817],"nice":false,"zero":false},"axis":{"orient":"right","values":[4800,4900,5000,5100,5200,5300,5400,5500,5600,5700],"format":",.2f","title":null,"grid":true,"gridColor":"#f0f3fa","ticks":false,"domain":false,"labelPadding":8,"labelFontSize":11,"labelColor":"#2a2e39","labelOverlap":false}},"y2":{"field":"c"},
"color":{"condition":[{"test":"abs(datum.c-datum.o)<9","value":"#5d5d5d"},{"test":"datum.c>datum.o","value":"#1a9a80"}],"value":"#f02a30"}}},
{"data":{"name":"priceSma"},"mark":{"type":"line","color":"#e01ee0","strokeWidth":2,"interpolate":"monotone","clip":true}},
{"data":{"name":"levels"},"mark":{"type":"rule"},"encoding":{"x2":{"field":"end"},
"strokeWidth":{"condition":{"test":"datum.tone==='up'","value":1.6},"value":2.4},
"color":{"field":"tone","type":"nominal","scale":{"domain":["resistance","floor","up","sma","ink","green","blue","chipRed","blueChip","line"],"range":["#f00f14","#000000","#089981","#e81ee8","#131722","#0a7a66","#1c3fdc","#f23645","#2962ff","#d1d4dc"]}}}},
{"data":{"name":"zones"},"mark":{"type":"rect","fillOpacity":0,"stroke":"#000000","strokeWidth":2.6},"encoding":{"x2":{"field":"end"},"y2":{"field":"low"}}},
{"data":{"name":"notes"},"mark":{"type":"text","align":"center","baseline":"middle","font":"Noto Sans"},"encoding":{"text":{"field":"label"},
"size":{"condition":{"test":"datum.label==='$5007.17'","value":19.5},"value":15.5},
"color":{"field":"tone","type":"nominal","scale":{"domain":["resistance","floor","up","sma","ink","green","blue","chipRed","blueChip","line"],"range":["#f00f14","#000000","#089981","#e81ee8","#131722","#0a7a66","#1c3fdc","#f23645","#2962ff","#d1d4dc"]}}}},
{"data":{"name":"priceTags"},"mark":{"type":"rect"},"encoding":{"x2":{"field":"end"},"y2":{"field":"low"},
"color":{"field":"tone","type":"nominal","scale":{"domain":["resistance","floor","up","sma","ink","green","blue","chipRed","blueChip","line"],"range":["#f00f14","#000000","#089981","#e81ee8","#131722","#0a7a66","#1c3fdc","#f23645","#2962ff","#d1d4dc"]}}}},
{"data":{"name":"priceTagText"},"mark":{"type":"text","align":"center","baseline":"middle","fontSize":11,"color":"#ffffff"},"encoding":{"text":{"field":"label"}}},
{"data":{"name":"headerBoxes"},"mark":{"type":"rect","fill":"#ffffff","cornerRadius":3,"strokeWidth":1},"encoding":{"x2":{"field":"end"},"y2":{"field":"low"},
"stroke":{"field":"tone","type":"nominal","scale":{"domain":["chipRed","blueChip","line"],"range":["#f0808a","#6d8ff0","#d1d4dc"]}}}},
{"data":{"name":"headerText"},"mark":{"type":"text","align":"left","baseline":"middle","fontSize":11.5},"encoding":{"text":{"field":"label"},
"size":{"condition":{"test":"datum.bar===25","value":13},"value":11.5},
"color":{"field":"tone","type":"nominal","scale":{"domain":["resistance","floor","up","sma","ink","green","blue","chipRed","blueChip","line"],"range":["#f00f14","#000000","#089981","#e81ee8","#131722","#0a7a66","#1c3fdc","#f23645","#2962ff","#d1d4dc"]}}}},
{"data":{"name":"logoDot"},"mark":{"type":"point","filled":true,"shape":"circle","size":190,"color":"#c8102e","opacity":1}},
{"data":{"name":"logoText"},"mark":{"type":"text","align":"center","baseline":"middle","fontSize":6.5,"fontWeight":"bold","color":"#ffffff"},"encoding":{"text":{"field":"label"}}},
{"data":{"name":"statusRing"},"mark":{"type":"point","filled":true,"shape":"circle","size":190,"color":"#d9f1ec","opacity":1}},
{"data":{"name":"statusRing"},"mark":{"type":"point","filled":true,"shape":"circle","size":36,"color":"#089981","opacity":1}},
{"data":{"name":"chevrons"},"mark":{"type":"point","filled":false,"shape":"M-1,-0.5L0,0.5L1,-0.5","size":30,"color":"#131722","strokeWidth":1,"opacity":1}}
]
},
{
"width":1149,"height":92,
"encoding":{
"x":{"field":"bar","type":"quantitative","scale":{"domain":[0,1149],"nice":false,"zero":false},"axis":{"values":[13,80,168,239,316,407,511,586,666,742,818,918,1013,1090],"grid":true,"gridColor":"#f0f3fa","labels":false,"ticks":false,"domain":false,"title":null}},
"y":{"field":"value","type":"quantitative","scale":{"domain":[22,89.2],"nice":false,"zero":false},"axis":{"orient":"right","values":[60,80],"format":".2f","title":null,"grid":true,"gridColor":"#f0f3fa","ticks":false,"domain":false,"labelPadding":8,"labelFontSize":11,"labelColor":"#2a2e39","labelOverlap":false}}
},
"layer":[
{"data":{"name":"rsiDivider"},"mark":{"type":"rule","color":"#e0e3eb","strokeWidth":1.5},"encoding":{"x2":{"field":"end"}}},
{"data":{"name":"rsiGrid"},"mark":{"type":"rule","color":"#f0f3fa","strokeWidth":1},"encoding":{"x2":{"field":"end"}}},
{"data":{"name":"rsiBand"},"mark":{"type":"rect","fill":"#7e57c2","fillOpacity":0.1},"encoding":{"x2":{"field":"end"},"y2":{"field":"low"}}},
{"data":{"name":"rsiDashes"},"mark":{"type":"rule","color":"#787b86","strokeWidth":1,"strokeDash":[4,4]},"encoding":{"x2":{"field":"end"}}},
{"data":{"name":"rsiSma"},"mark":{"type":"line","color":"#fbe98c","strokeWidth":1.4,"interpolate":"monotone","clip":true}},
{"data":{"name":"rsiLine"},"mark":{"type":"line","color":"#7e57c2","strokeWidth":1.2,"clip":true}},
{"data":{"name":"rsiTags"},"mark":{"type":"rect"},"encoding":{"x2":{"field":"end"},"y2":{"field":"low"},
"color":{"field":"tone","type":"nominal","scale":{"domain":["rsi","signal"],"range":["#7e57c2","#ffeb3b"]}}}},
{"data":{"name":"rsiTagText"},"mark":{"type":"text","align":"center","baseline":"middle","fontSize":11.5},"encoding":{"text":{"field":"label"},
"color":{"condition":{"test":"datum.label==='43.47'","value":"#131722"},"value":"#ffffff"}}}
]
},
{
"width":1149,"height":57,
"encoding":{
"x":{"field":"bar","type":"quantitative","scale":{"domain":[0,1149],"nice":false,"zero":false},"axis":{"values":[13,80,168,239,316,407,511,586,666,742,818,918,1013,1090],"labelExpr":"{'13':'19','80':'Mar','168':'18','239':'Apr','316':'15','407':'May','511':'20','586':'Jun','666':'17','742':'Jul','818':'15','918':'Aug','1013':'19','1090':'Sep'}[datum.value]","labelFontWeight":{"condition":{"test":"indexof(['Mar','Apr','May','Jun','Jul','Aug','Sep'],datum.label)>=0","value":600},"value":400},"grid":true,"gridColor":"#f0f3fa","ticks":false,"domain":false,"title":null,"labelPadding":6,"labelFontSize":11,"labelColor":"#2a2e39","labelOverlap":false}},
"y":{"field":"value","type":"quantitative","scale":{"domain":[-8.5,110.6],"nice":false,"zero":false},"axis":{"orient":"right","values":[0,100],"format":".2f","title":null,"grid":false,"ticks":false,"domain":false,"labelPadding":8,"labelFontSize":11,"labelColor":"#2a2e39","labelOverlap":false}}
},
"layer":[
{"data":{"name":"stochBand"},"mark":{"type":"rect","fill":"#2196f3","fillOpacity":0.1},"encoding":{"x2":{"field":"end"},"y2":{"field":"low"}}},
{"data":{"name":"stochDashes"},"mark":{"type":"rule","color":"#787b86","strokeWidth":1,"strokeDash":[4,4]},"encoding":{"x2":{"field":"end"}}},
{"data":{"name":"stochLine"},"mark":{"type":"line","color":"#2962ff","strokeWidth":1.2,"clip":true},"encoding":{"y":{"field":"k","type":"quantitative","scale":{"domain":[-8.5,110.6],"nice":false,"zero":false},"axis":{"orient":"right","values":[0,100],"format":".2f","title":null,"grid":false,"ticks":false,"domain":false,"labelPadding":8,"labelFontSize":11,"labelColor":"#2a2e39","labelOverlap":false}}}},
{"data":{"name":"stochLine"},"mark":{"type":"line","color":"#d9713c","strokeWidth":1.3,"clip":true}},
{"data":{"name":"stochTags"},"mark":{"type":"rect"},"encoding":{"x2":{"field":"end"},"y2":{"field":"low"},
"color":{"field":"tone","type":"nominal","scale":{"domain":["d","k"],"range":["#ff6d00","#2962ff"]}}}},
{"data":{"name":"stochTagText"},"mark":{"type":"text","align":"center","baseline":"middle","fontSize":11.5,"color":"#ffffff"},"encoding":{"text":{"field":"label"}}},
{"data":{"name":"tvLogo"},"mark":{"type":"point","filled":true,"size":576,"opacity":1,"color":"#000000","stroke":"#ffffff","strokeWidth":0.6,"shape":"M-1,-0.5L-0.42,-0.5L-0.42,0.5L-0.67,0.5L-0.67,-0.05L-1,-0.05ZM-0.33,-0.28a0.14,0.14 0 1 0 0.28,0a0.14,0.14 0 1 0 -0.28,0ZM0.5,-0.5L1,-0.5L0.5,0.5L0,0.5Z"}},
{"data":{"name":"gear"},"mark":{"type":"point","filled":false,"shape":"circle","size":130,"color":"#2a2e39","strokeWidth":1.2,"opacity":1}},
{"data":{"name":"gear"},"mark":{"type":"point","filled":false,"shape":"circle","size":24,"color":"#2a2e39","strokeWidth":1.2,"opacity":1}}
]
}
]
}
